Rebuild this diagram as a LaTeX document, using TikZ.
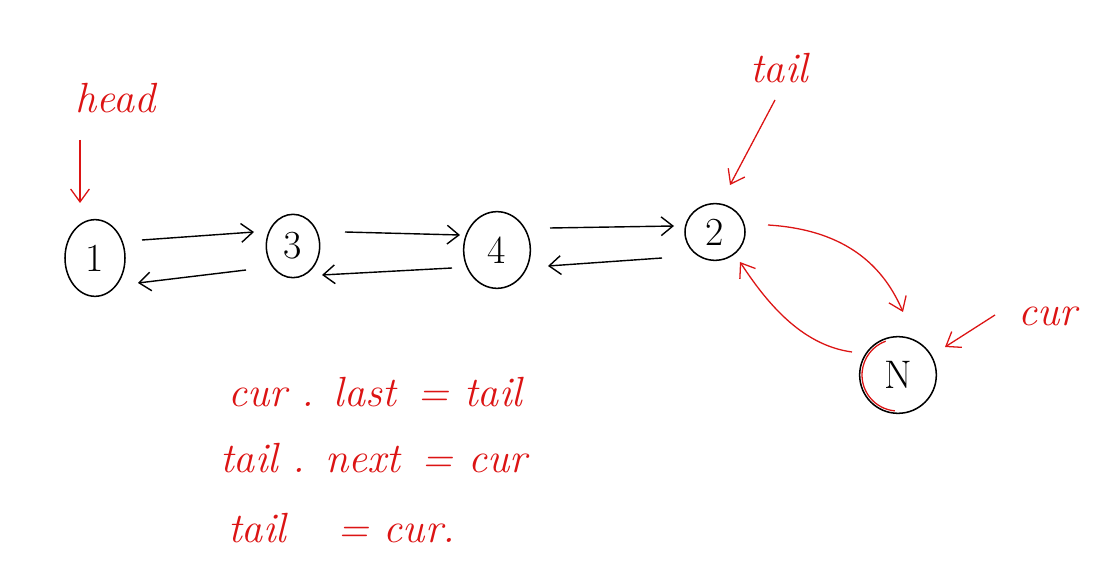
\documentclass[tikz,border=0pt]{standalone}
\usetikzlibrary{shapes.geometric,arrows.meta}
\definecolor{pen}{RGB}{220,20,20}
\begin{document}
\begin{tikzpicture}[x=0.03cm,y=-0.03cm,
  nodebox/.style={draw=black,line width=1.3pt,ellipse,inner sep=0pt,font=\fontsize{34}{40}\selectfont},
  blk/.style={draw=black,line width=1.2pt,-{Straight Barb[length=10pt,width=16pt,line width=1.2pt]}},
  redarr/.style={draw=pen,line width=1.1pt,-{Straight Barb[length=11pt,width=16pt,line width=1.1pt]}},
  lbl/.style={text=pen,font=\itshape\fontsize{36}{42}\selectfont,anchor=west,inner sep=0pt}]
\useasboundingbox (0,0) rectangle (1106,572);
% nodes
\node[nodebox,minimum width=1.8cm,minimum height=2.3cm] (n1) at (95,258) {1};
\node[nodebox,minimum width=1.6cm,minimum height=1.9cm] (n3) at (293,246) {3};
\node[nodebox,minimum width=2.0cm,minimum height=2.3cm] (n4) at (497,250) {4};
\node[nodebox,minimum width=1.8cm,minimum height=1.7cm] (n2) at (715,232) {2};
\node[nodebox,minimum width=2.3cm,minimum height=2.3cm] (nN) at (898,375) {N};
\draw[pen,line width=1.1pt] (nN.center) ++(-95:1.08cm) arc[start angle=-95,end angle=-250,radius=1.08cm];
% connector ends
\coordinate (a1) at (142,240); \coordinate (a2) at (254,232);
\coordinate (b1) at (246,270); \coordinate (b2) at (138,283);
\coordinate (c1) at (345,232); \coordinate (c2) at (460,235);
\coordinate (d1) at (452,268); \coordinate (d2) at (322,275);
\coordinate (e1) at (550,228); \coordinate (e2) at (674,226);
\coordinate (f1) at (662,258); \coordinate (f2) at (548,266);
% black connectors
\draw[blk] (a1) -- (a2);
\draw[blk] (b1) -- (b2);
\draw[blk] (c1) -- (c2);
\draw[blk] (d1) -- (d2);
\draw[blk] (e1) -- (e2);
\draw[blk] (f1) -- (f2);
% red connectors
\coordinate (r1) at (768,225); \coordinate (r2) at (903,312);
\coordinate (s1) at (852,352); \coordinate (s2) at (740,262);
\draw[redarr] (r1) .. controls (850,230) and (885,270) .. (r2);
\draw[redarr] (s1) .. controls (800,345) and (765,300) .. (s2);
% labels
\node[lbl] (head) at (75,98) {head};
\node[lbl] (tail) at (750,68) {tail};
\node[lbl] (cur) at (1018,316) {cur};
\coordinate (h1) at (80,140); \coordinate (h2) at (80,203);
\coordinate (t1) at (775,100); \coordinate (t2) at (730,185);
\coordinate (u1) at (995,315); \coordinate (u2) at (945,347);
\draw[redarr] (h1) -- (h2);
\draw[redarr] (t1) -- (t2);
\draw[redarr] (u1) -- (u2);
\node[lbl] (l1) at (228,392) {cur . last \,= tail};
\node[lbl] (l2) at (220,458) {tail . next \,= cur};
\node[lbl] (l3) at (228,528) {tail \ \ \,= cur.};
\end{tikzpicture}
\end{document}
